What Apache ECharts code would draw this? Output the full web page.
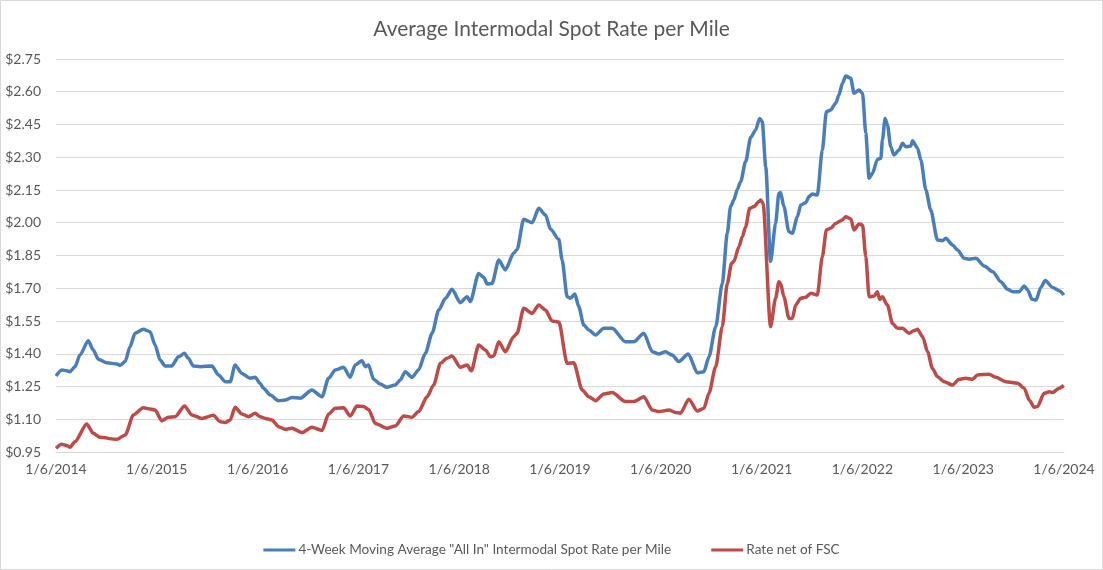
<!DOCTYPE html>
<html>
<head>
<meta charset="utf-8">
<script src="https://cdn.jsdelivr.net/npm/echarts@6/dist/echarts.min.js"></script>
<style>html,body{margin:0;padding:0;background:#fff}#c{width:1103px;height:570px}</style>
</head>
<body>
<div id="c"></div>
<script>
// Week offsets since 1/6/2014 and values
const blueWeeks = [0,3,5.5,7.25,9.8,12.4,16.7,19.3,21.9,26.3,31.5,33.2,35.8,38.3,40.9,45.2,48.7,51.3,53.9,56.5,59.9,63.4,66.5,68.5,71.1,74.6,80.7,84.1,87.6,90.2,92.7,96.2,100.5,103.1,105.7,107.4,110.9,115.2,118.7,122.1,126.4,132.5,137.7,141.1,144.6,148.9,152.3,154.9,158.4,160.1,161.8,164.4,167.9,171.3,175.6,178.2,180.8,184.3,187.7,191.2,194.7,198.1,201.6,205.0,209.3,212.8,214.5,218.8,221.4,223.2,225.7,229.2,232.6,236.9,238.7,242.1,246.5,249.9,253.4,256.0,260.3,262.0,264.6,266.3,268.6,270.6,273.2,275.8,279.3,283.6,287.9,294.8,299.1,304.3,308.7,312.1,315.5,319.0,322.4,327.3,332.0,335.4,338.0,341.5,344.9,347.5,349.2,350.9,352.7,354.4,357.0,359.6,362.2,364.2,365.6,367.4,369.9,372.5,374.2,375.1,376.8,379.4,381.2,383.8,385.5,388.1,389.8,391.5,394.1,396.7,398.8,401.0,403.6,405.3,407.1,408.8,411.4,413.1,415.7,417.5,419.2,420.9,422.7,425.2,427.0,427.8,429.2,430.4,432.1,433.8,436.4,438.2,439.9,442.5,443.4,446.0,447.7,450.3,452.8,456.3,458.9,460.6,464.1,466.7,470.1,472.7,476.2,480.5,484.9,489.1,492.6,495.2,498.6,501.2,503.0,505.2,507.3,509.8,512.1,515.9,519.3,521.7];
const blueValues = [1.298,1.326,1.322,1.318,1.340,1.394,1.460,1.417,1.375,1.359,1.353,1.347,1.364,1.432,1.494,1.512,1.501,1.440,1.371,1.344,1.344,1.386,1.402,1.379,1.344,1.341,1.344,1.303,1.272,1.272,1.349,1.310,1.288,1.292,1.264,1.242,1.211,1.185,1.188,1.200,1.196,1.234,1.203,1.288,1.326,1.338,1.292,1.349,1.368,1.341,1.349,1.283,1.261,1.246,1.257,1.280,1.318,1.292,1.326,1.402,1.494,1.600,1.654,1.695,1.634,1.661,1.639,1.768,1.750,1.719,1.722,1.829,1.784,1.860,1.878,2.016,2.000,2.066,2.035,1.970,1.924,1.829,1.661,1.654,1.674,1.616,1.532,1.509,1.486,1.517,1.517,1.455,1.455,1.494,1.409,1.399,1.409,1.394,1.364,1.399,1.313,1.318,1.386,1.524,1.722,1.952,2.074,2.104,2.153,2.188,2.280,2.390,2.425,2.478,2.463,2.257,1.822,1.997,2.135,2.138,2.074,1.959,1.952,2.028,2.081,2.092,2.120,2.132,2.127,2.333,2.509,2.516,2.547,2.585,2.639,2.672,2.662,2.593,2.608,2.593,2.410,2.204,2.227,2.290,2.295,2.379,2.478,2.448,2.348,2.310,2.333,2.364,2.348,2.351,2.376,2.341,2.287,2.150,2.059,1.921,1.918,1.929,1.898,1.875,1.837,1.833,1.837,1.802,1.776,1.730,1.695,1.684,1.684,1.710,1.692,1.650,1.646,1.704,1.735,1.704,1.689,1.669];
const redWeeks = [0,3,5.5,7.25,9.8,15.9,19.3,22.8,31.5,35.8,40.1,45.2,48.7,51.3,54.8,58.2,61.7,66.5,70.3,75.5,81.5,85.0,87.6,90.2,92.7,96.2,99.6,103.1,105.7,108.3,111.8,115.2,118.7,122.1,127.3,132.5,137.7,141.1,144.6,148.9,152.3,155.8,159.2,161.8,165.3,171.3,175.6,180.0,184.3,187.7,192.1,195.5,199.0,202.4,205.0,209.3,212.8,215.0,218.8,222.3,224.9,226.6,229.2,232.6,236.9,238.7,242.1,246.5,249.9,253.4,256.8,260.3,264.6,268.0,272.4,275.8,279.3,283.6,287.9,294.8,299.1,304.3,308.7,312.1,317.3,320.7,323.3,327.6,332.0,335.4,338.0,341.5,344.9,347.5,349.7,350.9,353.5,355.3,357.0,359.1,361.3,363.9,364.8,366.0,369.9,372.5,374.2,375.1,376.8,379.4,381.2,382.9,385.5,388.1,390.7,394.1,396.7,398.8,401.0,403.6,407.1,408.8,411.4,413.1,415.7,417.5,419.2,420.9,423.5,425.2,426.4,427.8,430.4,433.0,435.6,438.2,441.6,444.2,446.0,448.6,451.2,453.7,456.3,459.8,464.1,467.5,471.0,474.5,477.0,483.0,486.5,491.7,497.8,501.2,503.8,506.4,508.1,511.5,514.1,515.9,519.3,521.7];
const redValues = [0.967,0.985,0.980,0.972,0.997,1.078,1.036,1.017,1.008,1.028,1.120,1.153,1.147,1.142,1.093,1.109,1.112,1.161,1.120,1.104,1.118,1.089,1.085,1.097,1.155,1.124,1.112,1.127,1.112,1.104,1.097,1.066,1.054,1.059,1.039,1.063,1.048,1.124,1.150,1.153,1.115,1.161,1.158,1.145,1.081,1.059,1.069,1.115,1.109,1.135,1.203,1.257,1.356,1.379,1.390,1.338,1.349,1.322,1.440,1.417,1.386,1.390,1.455,1.409,1.478,1.494,1.608,1.585,1.623,1.600,1.550,1.545,1.356,1.359,1.234,1.203,1.185,1.216,1.222,1.181,1.181,1.203,1.142,1.135,1.142,1.131,1.128,1.192,1.138,1.150,1.219,1.341,1.524,1.722,1.814,1.822,1.890,1.936,1.982,2.066,2.074,2.097,2.104,2.089,1.524,1.654,1.730,1.722,1.661,1.562,1.562,1.623,1.654,1.659,1.677,1.669,1.845,1.967,1.975,1.997,2.013,2.028,2.018,1.967,1.994,1.990,1.845,1.661,1.664,1.684,1.649,1.661,1.623,1.539,1.517,1.517,1.494,1.506,1.512,1.478,1.409,1.333,1.295,1.272,1.257,1.283,1.288,1.283,1.303,1.306,1.292,1.272,1.265,1.242,1.188,1.155,1.158,1.219,1.226,1.222,1.242,1.255];
const yearLabels = ['1/6/2014','1/6/2015','1/6/2016','1/6/2017','1/6/2018','1/6/2019','1/6/2020','1/6/2021','1/6/2022','1/6/2023','1/6/2024'];
const seriesNames = ['4-Week Moving Average "All In" Intermodal Spot Rate per Mile','Rate net of FSC'];

const WEEKS_PER_YEAR = 52.18;
const toPairs = (ws, vs) => ws.map((w, i) => [w / WEEKS_PER_YEAR, vs[i]]);
const FONT = 'Lato';
const TXT = '#595959';

const chart = echarts.init(document.getElementById('c'), null, {renderer: 'canvas'});
chart.setOption({
  animation: false,
  backgroundColor: '#fff',
  title: {
    text: 'Average Intermodal Spot Rate per Mile',
    left: 'center', top: 14,
    textStyle: {fontFamily: FONT, fontSize: 21, fontWeight: 'normal', color: TXT}
  },
  legend: {
    left: 'center', top: 538,
    itemWidth: 32, itemHeight: 3, itemGap: 40,
    icon: 'rect',
    textStyle: {fontFamily: FONT, fontSize: 13.6, color: TXT, padding: [0,0,0,-2]},
    data: seriesNames
  },
  grid: {left: 56, right: 39, top: 59, bottom: 118, containLabel: false},
  xAxis: {
    type: 'value', min: 0, max: 10, interval: 1,
    axisLine: {show: true, lineStyle: {color: '#d9d9d9', width: 1}},
    axisTick: {show: false},
    splitLine: {show: false},
    axisLabel: {
      fontFamily: FONT, fontSize: 14, color: TXT, margin: 10,
      formatter: v => yearLabels[Math.round(v)]
    }
  },
  yAxis: {
    type: 'value', min: 0.95, max: 2.75, interval: 0.15,
    axisLine: {show: false}, axisTick: {show: false},
    splitLine: {lineStyle: {color: '#d9d9d9', width: 1}},
    axisLabel: {
      fontFamily: FONT, fontSize: 14, color: TXT, margin: 15,
      formatter: v => '$' + v.toFixed(2)
    }
  },
  series: [
    {name: seriesNames[0], type: 'line', data: toPairs(blueWeeks, blueValues),
     showSymbol: false, smooth: 0.25, smoothMonotone: 'x',
     itemStyle: {color: '#4a7ebb'}, lineStyle: {color: '#4a7ebb', width: 3.5}},
    {name: seriesNames[1], type: 'line', data: toPairs(redWeeks, redValues),
     showSymbol: false, smooth: 0.25, smoothMonotone: 'x',
     itemStyle: {color: '#be4b48'}, lineStyle: {color: '#be4b48', width: 3.5}}
  ],
  graphic: [{type: 'rect', silent: true, z: 100,
    shape: {x: 0.5, y: 0.5, width: 1102, height: 569},
    style: {fill: 'none', stroke: '#d9d9d9', lineWidth: 1}}]
});
</script>
</body>
</html>
